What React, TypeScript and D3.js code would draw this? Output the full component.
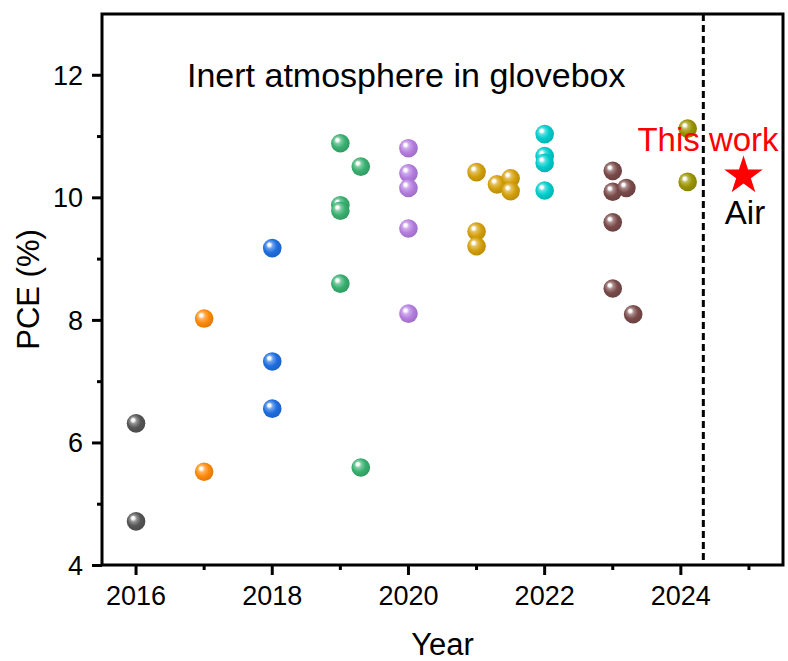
import React from "react";
import * as d3 from "d3";

// PCE records by year (each group = one colour in the figure)
const groupColors = ["#555555", "#ff8a0a", "#1f6fe0", "#38b070", "#b57ee0", "#d4a00a", "#00cccc", "#7a4a4a", "#9a9400"];
const groupX = [
  [2016, 2016],
  [2017, 2017],
  [2018, 2018, 2018],
  [2019, 2019.3, 2019, 2019, 2019, 2019.3],
  [2020, 2020, 2020, 2020, 2020],
  [2021, 2021.3, 2021.5, 2021.5, 2021, 2021],
  [2022, 2022, 2022, 2022],
  [2023, 2023, 2023.2, 2023, 2023, 2023.3],
  [2024.1, 2024.1],
];
const groupY = [
  [6.32, 4.72],
  [8.03, 5.53],
  [9.18, 7.33, 6.56],
  [10.89, 10.51, 9.88, 9.79, 8.6, 5.6],
  [10.81, 10.4, 10.16, 9.5, 8.11],
  [10.42, 10.22, 10.32, 10.11, 9.45, 9.21],
  [11.04, 10.68, 10.57, 10.12],
  [10.44, 10.1, 10.16, 9.6, 8.52, 8.1],
  [11.13, 10.26],
];

const thisWorkX = 2024.92;
const thisWorkY = 10.36;
const dividerYear = 2024.33;

const xMajor = [2016, 2018, 2020, 2022, 2024];
const xMinor = [2017, 2019, 2021, 2023, 2025];
const yMajor = [4, 6, 8, 10, 12];
const yMinor = [5, 7, 9, 11];

const width = 788,
  height = 661,
  margin = { top: 14, right: 5, bottom: 96, left: 102 };

const App: React.FC = () => {
  const x = d3
    .scaleLinear()
    .domain([2015.5, 2025.5])
    .range([margin.left, width - margin.right]);
  const y = d3
    .scaleLinear()
    .domain([4, 13])
    .range([height - margin.bottom + 0.5, margin.top]);

  const x0 = margin.left,
    x1 = width - margin.right,
    y0 = height - margin.bottom,
    y1 = margin.top;
  const font = "Arial, 'Liberation Sans', sans-serif";
  const star = d3.symbol().type(d3.symbolStar).size(460)();

  return (
    <svg
      width={width}
      height={height}
      style={{ position: "absolute", left: 0, top: 0, background: "#fff" }}
      fontFamily={font}
    >
      <defs>
        {groupColors.map((c, i) => (
          <radialGradient key={i} id={`ball${i}`} cx="0.45" cy="0.45" r="0.6" fx="0.32" fy="0.3">
            <stop offset="0" stopColor="#ffffff" />
            <stop offset="0.12" stopColor="#ffffff" stopOpacity={0.95} />
            <stop offset="0.3" stopColor={d3.interpolateRgb(c, "#fff")(0.35)} />
            <stop offset="0.6" stopColor={c} />
            <stop offset="1" stopColor={d3.color(c)!.darker(0.45).toString()} />
          </radialGradient>
        ))}
      </defs>

      {/* frame */}
      <rect x={x0} y={y1} width={x1 - x0} height={y0 - y1} fill="none" stroke="#000" strokeWidth={3} />

      {/* x ticks */}
      {xMajor.map((t) => (
        <g key={`xm${t}`}>
          <line x1={x(t)} x2={x(t)} y1={y0} y2={y0 + 10} stroke="#000" strokeWidth={3} />
          <text x={x(t)} y={y0 + 40} textAnchor="middle" fontSize={27}>
            {t}
          </text>
        </g>
      ))}
      {xMinor.map((t) => (
        <line key={`xn${t}`} x1={x(t)} x2={x(t)} y1={y0} y2={y0 + 5} stroke="#000" strokeWidth={3} />
      ))}

      {/* y ticks */}
      {yMajor.map((t) => (
        <g key={`ym${t}`}>
          <line x1={x0 - 10} x2={x0} y1={y(t)} y2={y(t)} stroke="#000" strokeWidth={3} />
          <text x={x0 - 19} y={y(t)} dy="0.35em" textAnchor="end" fontSize={27}>
            {t}
          </text>
        </g>
      ))}
      {yMinor.map((t) => (
        <line key={`yn${t}`} x1={x0 - 5} x2={x0} y1={y(t)} y2={y(t)} stroke="#000" strokeWidth={3} />
      ))}

      {/* axis titles */}
      <text x={(x0 + x1) / 2} y={655} textAnchor="middle" fontSize={31}>
        Year
      </text>
      <text
        transform={`translate(39,${(y0 + y1) / 2}) rotate(-90)`}
        textAnchor="middle"
        fontSize={31}
      >
        PCE (%)
      </text>

      {/* divider */}
      <line
        x1={x(dividerYear)}
        x2={x(dividerYear)}
        y1={y1}
        y2={y0}
        stroke="#000"
        strokeWidth={3}
        strokeDasharray="7,4"
      />

      <text x={187} y={87} fontSize={34}>
        Inert atmosphere in glovebox
      </text>

      {/* data points */}
      {groupX.map((xs, g) =>
        xs.map((xv, i) => (
          <circle key={`${g}-${i}`} cx={x(xv)} cy={y(groupY[g][i])} r={9.3} fill={`url(#ball${g})`} />
        ))
      )}

      {/* this work */}
      <text x={708} y={151} textAnchor="middle" fontSize={33} fill="#ff0000">
        This work
      </text>
      <path d={star ?? ""} transform={`translate(${x(thisWorkX)},${y(thisWorkY)})`} fill="#ff0000" />
      <text x={745} y={224} textAnchor="middle" fontSize={33} fill="#000">
        Air
      </text>
    </svg>
  );
};

export default App;
